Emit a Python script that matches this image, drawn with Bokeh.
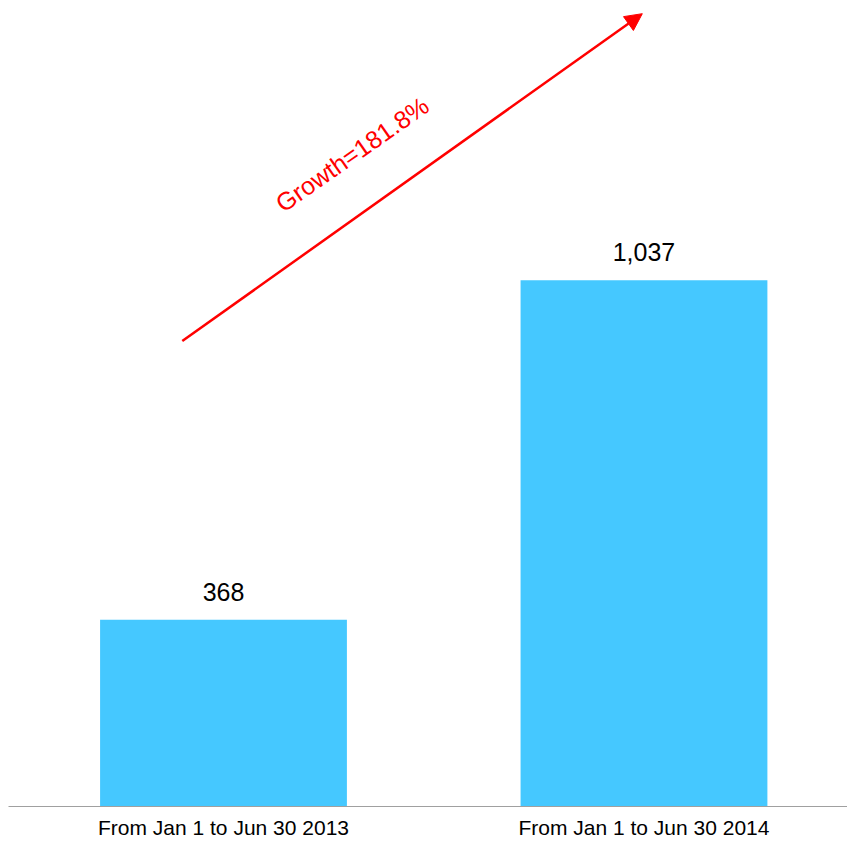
import math
from bokeh.plotting import figure
from bokeh.models import ColumnDataSource, LabelSet, Label, Arrow, NormalHead, FixedTicker
from bokeh.core.properties import value
from bokeh.embed import file_html
from bokeh.resources import INLINE

categories = ["From Jan 1 to Jun 30 2013", "From Jan 1 to Jun 30 2014"]
values = [368, 1037]
value_labels = ["368", "1,037"]
growth = (values[1] - values[0]) / values[0] * 100
growth_text = "Growth=%.1f%%" % growth

xs = list(range(len(categories)))

# annotation placement (data coordinates)
arrow_start = (-0.098, 917)
arrow_end = (0.996, 1562)
text_pos = (0.306, 1285)

src = ColumnDataSource(dict(x=xs, top=values, label=value_labels))

p = figure(width=847, height=841, output_backend="svg", toolbar_location=None,
           x_range=(-0.5113, 1.484), y_range=(0, 1588),
           y_axis_location=None, min_border_left=8, min_border_right=0,
           min_border_top=0, min_border_bottom=34)
p.outline_line_color = None
p.xgrid.visible = False
p.ygrid.visible = False

p.vbar(x="x", top="top", width=0.587, source=src, color="#45c8ff", line_color=None)

p.add_layout(LabelSet(x="x", y="top", text="label", source=src, text_align="center",
                      text_baseline="alphabetic", y_offset=19, text_font_size=value("25px"),
                      text_font=value("Liberation Sans"), text_color="#000000"))

p.add_layout(Arrow(x_start=arrow_start[0], y_start=arrow_start[1],
                   x_end=arrow_end[0], y_end=arrow_end[1],
                   line_color="#ff0000", line_width=2.5,
                   end=NormalHead(size=17, fill_color="#ff0000", line_color="#ff0000")))

p.add_layout(Label(x=text_pos[0], y=text_pos[1], text=growth_text, angle=math.radians(35),
                   text_align="center", text_baseline="middle", text_font_size="25px",
                   text_font="Liberation Sans", text_color="#ff0000"))

ax = p.xaxis[0]
ax.ticker = FixedTicker(ticks=xs)
ax.major_label_overrides = {i: c for i, c in zip(xs, categories)}
ax.major_tick_line_color = None
ax.minor_tick_line_color = None
ax.major_tick_out = 0
ax.major_label_standoff = 9
ax.major_label_text_font_size = "21px"
ax.major_label_text_font = "Liberation Sans"
ax.major_label_text_color = "#000000"
ax.axis_line_color = "#a0a0a0"
ax.axis_line_width = 1

open("out.html", "w").write(file_html(p, INLINE))
